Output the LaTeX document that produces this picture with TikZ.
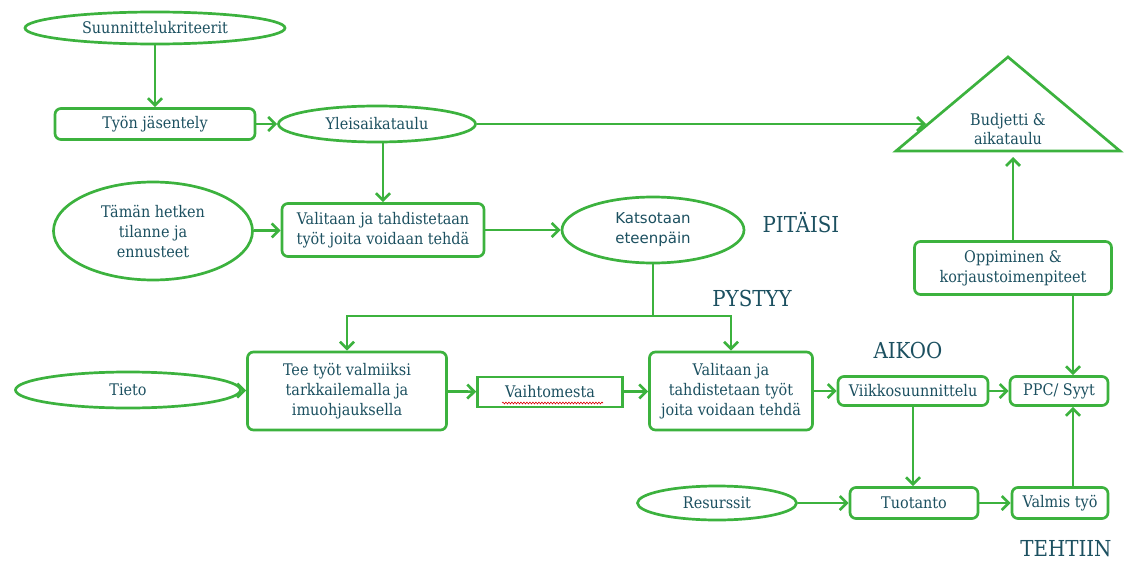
\documentclass[tikz,border=0pt]{standalone}
\usepackage{fontspec}
\setmainfont{DejaVu Serif Condensed}
\newfontfamily\labelsans{DejaVu Sans}
\newfontfamily\tagserif{DejaVu Serif Condensed}
\usetikzlibrary{arrows.meta,shapes.geometric,decorations.pathmorphing}

\definecolor{flowgreen}{RGB}{60,178,62}
\definecolor{flowtext}{RGB}{28,80,96}

\tikzset{
  flow/.style={draw=flowgreen, line width=2.7pt},
  stepbox/.style={flow, rounded corners=6pt, align=center, inner sep=2pt,
    text=flowtext, font=\fontsize{16}{20}\selectfont},
  oval/.style={flow, ellipse, align=center, inner sep=0pt,
    text=flowtext, font=\fontsize{16}{20}\selectfont},
  tag/.style={text=flowtext, font=\tagserif\fontsize{22}{24}\selectfont},
  link/.style={flow, -{Straight Barb[length=7pt,width=14pt]}},
  plainlink/.style={flow}
}

\begin{document}
\begin{tikzpicture}[x=1pt,y=-1pt]
\useasboundingbox (0,0) rectangle (1136,562);

% planning column
\node[oval, minimum width=260pt, minimum height=32pt] (krit) at (155,28) {Suunnittelukriteerit};
\node[stepbox, minimum width=200pt, minimum height=31pt] (jas) at (155,124) {Työn jäsentely};
\node[oval, minimum width=197pt, minimum height=36pt] (yleis) at (377,124) {Yleisaikataulu};
\node[oval, minimum width=199pt, minimum height=98pt] (tilanne) at (153,231) {Tämän hetken\\tilanne ja\\ennusteet};
\node[stepbox, minimum width=202pt, minimum height=53pt] (valit1) at (383,230) {Valitaan ja tahdistetaan\\työt joita voidaan tehdä};
\node[oval, minimum width=182pt, minimum height=66pt, font=\labelsans\fontsize{15}{20}\selectfont] (katso) at (653,230) {Katsotaan\\eteenpäin};

% budget triangle
\coordinate (triA) at (1008,57);
\coordinate (triL) at (896,151);
\coordinate (triR) at (1120,151);
\draw[flow, line join=miter] (triA) -- (triL) -- (triR) -- cycle;
\node[text=flowtext, font=\fontsize{16}{19}\selectfont, align=center] (budj) at (1008,129) {Budjetti \&\\aikataulu};
\coordinate (budjIn) at (926,124);
\coordinate (budjBase) at (1013,157);

\node[stepbox, minimum width=197pt, minimum height=53pt] (oppi) at (1013,268) {Oppiminen \&\\korjaustoimenpiteet};

% doing row
\node[oval, minimum width=225pt, minimum height=36pt] (tieto) at (128,390) {Tieto};
\node[stepbox, minimum width=199pt, minimum height=78pt] (tee) at (347,391) {Tee työt valmiiksi\\tarkkailemalla ja\\imuohjauksella};
\node[flow, rectangle, minimum width=145pt, minimum height=30pt, text=flowtext, font=\fontsize{16}{20}\selectfont] (vaihto) at (550,392) {Vaihtomesta};
\node[stepbox, minimum width=163pt, minimum height=78pt] (valit2) at (731,391) {Valitaan ja\\tahdistetaan työt\\joita voidaan tehdä};
\node[stepbox, minimum width=150pt, minimum height=29pt] (viikko) at (913,391) {Viikkosuunnittelu};
\node[stepbox, minimum width=98pt, minimum height=29pt] (ppc) at (1059,391) {PPC/ Syyt};

% production row
\node[oval, minimum width=159pt, minimum height=34pt] (resu) at (717,503) {Resurssit};
\node[stepbox, minimum width=128pt, minimum height=31pt] (tuot) at (914,503) {Tuotanto};
\node[stepbox, minimum width=96pt, minimum height=31pt] (valmis) at (1060,503) {Valmis työ};

% red spelling underline
\coordinate (wavyA) at (502,403);
\coordinate (wavyB) at (603,403);
\draw[red!85!black, line width=0.6pt, decorate, decoration={snake, amplitude=0.9pt, segment length=3pt}] (wavyA) -- (wavyB);

% level labels
\node[tag] (pit) at (801,223) {PITÄISI};
\node[tag] (pys) at (752,298) {PYSTYY};
\node[tag] (aik) at (908,350) {AIKOO};
\node[tag] (teht) at (1066,549) {TEHTIIN};

% connectors
\draw[link] (krit) -- (jas);
\draw[link] (jas) -- (yleis);
\draw[link] (yleis.east) -- (budjIn);
\draw[link] (yleis.south -| valit1.north) -- (valit1.north);
\draw[link] (tilanne) -- (valit1);
\draw[link] (valit1) -- (katso);

\coordinate (split) at (653,316);
\draw[plainlink] (katso.south) -- (split);
\draw[link] (split) -| (tee.north);
\draw[link] (split) -| (valit2.north);

\draw[link] (tieto) -- (tee);
\draw[link] (tee) -- (vaihto);
\draw[link] (vaihto) -- (valit2);
\draw[link] (valit2) -- (viikko);
\draw[link] (viikko) -- (ppc);
\draw[link] (oppi.north) -- (budjBase);
\draw[link] (oppi.south -| 1073,0) -- (ppc.north -| 1073,0);
\draw[link] (viikko.south) -- (tuot.north -| viikko.south);
\draw[link] (resu) -- (tuot);
\draw[link] (tuot) -- (valmis);
\draw[link] (valmis.north -| 1073,0) -- (ppc.south -| 1073,0);
\end{tikzpicture}
\end{document}
